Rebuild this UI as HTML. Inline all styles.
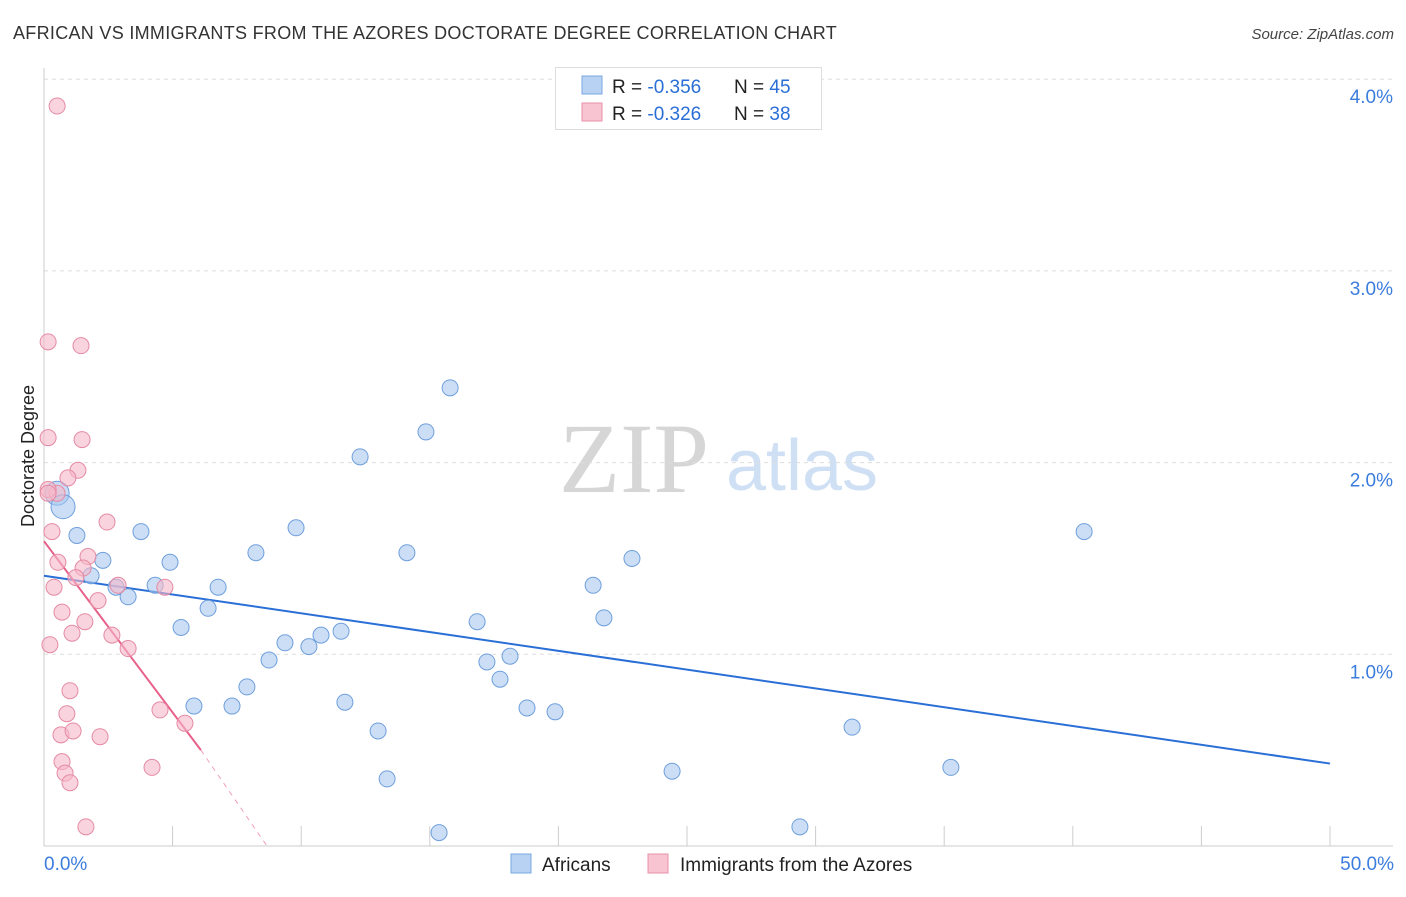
<!DOCTYPE html>
<html><head><meta charset="utf-8">
<style>
body{margin:0;background:#fff;font-family:"Liberation Sans",sans-serif;}
</style></head>
<body>
<svg id="chart" width="1406" height="892" viewBox="0 0 1406 892" xmlns="http://www.w3.org/2000/svg" font-family="Liberation Sans, sans-serif">
<text x="13" y="39" font-size="18" fill="#333" letter-spacing="0.3">AFRICAN VS IMMIGRANTS FROM THE AZORES DOCTORATE DEGREE CORRELATION CHART</text>
<text x="1394" y="39" font-size="15" fill="#444" font-style="italic" text-anchor="end">Source: ZipAtlas.com</text>
<g>
<text x="634" y="492" font-size="100" fill="#d6d6d6" style="font-family:'Liberation Serif',serif" text-anchor="middle">ZIP</text>
<text x="802" y="490" font-size="72" fill="#cfe0f5" text-anchor="middle">atlas</text>
</g>
<g id="grid"></g>
<g id="axes"></g>
<g id="lines"></g>
<g id="points"></g>
<text transform="translate(34,456) rotate(-90)" font-size="18" fill="#222" text-anchor="middle">Doctorate Degree</text>
<g>
<rect x="555.5" y="67.5" width="266" height="62" fill="#fff" stroke="#ddd"/>
<rect x="582" y="76" width="20" height="18" fill="#b8d2f4" stroke="#7aa8e0"/>
<text x="612" y="93" font-size="19" fill="#222">R = <tspan fill="#2a6fd6">-0.356</tspan></text>
<text x="734" y="93" font-size="19" fill="#222">N = <tspan fill="#2a6fd6">45</tspan></text>
<rect x="582" y="103" width="20" height="18" fill="#f8c4d2" stroke="#e890a8"/>
<text x="612" y="120" font-size="19" fill="#222">R = <tspan fill="#2a6fd6">-0.326</tspan></text>
<text x="734" y="120" font-size="19" fill="#222">N = <tspan fill="#2a6fd6">38</tspan></text>
</g>
<g>
<rect x="511" y="854" width="20" height="19" fill="#b8d2f4" stroke="#7aa8e0"/>
<text x="542" y="871" font-size="19" fill="#222">Africans</text>
<rect x="648" y="854" width="20" height="19" fill="#f8c4d2" stroke="#e890a8"/>
<text x="680" y="871" font-size="19" fill="#222">Immigrants from the Azores</text>
</g>
</svg>
<script>
const yTicks=[1,2,3,4];
const yTickLabels=["1.0%","2.0%","3.0%","4.0%"];
const xTickLabels=["0.0%","50.0%"];
const blueX=[0.51,0.74,1.28,1.83,2.29,2.80,3.27,3.77,4.32,4.90,5.33,5.83,6.38,6.77,7.31,7.89,8.24,8.75,9.37,9.80,10.30,10.77,11.55,11.70,12.29,12.99,13.34,14.11,14.85,15.36,15.79,16.84,17.22,17.73,18.12,18.78,19.87,21.35,21.77,22.86,24.42,29.39,31.42,35.26,40.44];
const blueY=[1.84,1.77,1.62,1.41,1.49,1.35,1.30,1.64,1.36,1.48,1.14,0.73,1.24,1.35,0.73,0.83,1.53,0.97,1.06,1.66,1.04,1.10,1.12,0.75,2.03,0.60,0.35,1.53,2.16,0.07,2.39,1.17,0.96,0.87,0.99,0.72,0.70,1.36,1.19,1.50,0.39,0.10,0.62,0.41,1.64];
const pinkX=[0.51,0.16,1.44,0.16,1.48,1.32,0.93,0.51,0.16,0.31,2.45,1.71,0.54,1.52,1.24,0.39,2.88,4.70,2.10,0.70,1.59,1.09,2.64,3.27,0.23,1.01,0.89,4.51,5.48,0.66,1.13,2.18,0.70,0.82,1.01,4.20,1.63,0.16];
const pinkY=[3.86,2.63,2.61,2.13,2.12,1.96,1.92,1.84,1.86,1.64,1.69,1.51,1.48,1.45,1.40,1.35,1.36,1.35,1.28,1.22,1.17,1.11,1.10,1.03,1.05,0.81,0.69,0.71,0.64,0.58,0.60,0.57,0.44,0.38,0.33,0.41,0.10,1.84];
const blueTrend=[[0,1.41],[50,0.43]];
const pinkTrend=[[0,1.59],[6.1,0.50]];
const pinkDash=[[6.1,0.50],[8.67,0]];
const X=v=>44+v*25.72, Y=v=>846-v*191.7;
const NS="http://www.w3.org/2000/svg";
function mk(p,t,a){const e=document.createElementNS(NS,t);for(const k in a)e.setAttribute(k,a[k]);document.getElementById(p).appendChild(e);return e;}
yTicks.forEach((t,i)=>{
 const l=mk('grid','line',{x1:44,x2:1393,y1:Y(t),y2:Y(t),stroke:'#ddd','stroke-dasharray':'4,4'});
 
 
 const tx=mk('grid','text',{x:1393,y:Y(t)+24,'font-size':19,fill:'#3b7ddd','text-anchor':'end'});
 tx.textContent=yTickLabels[i];
 
 
});
const ax=mk('axes','line',{x1:44,x2:1393,y1:846,y2:846,stroke:'#ccc'});


const ay=mk('axes','line',{x1:44,x2:44,y1:68,y2:846,stroke:'#ccc'});


for(let i=0;i<=10;i++){const t=mk('axes','line',{x1:X(i*5),x2:X(i*5),y1:826,y2:846,stroke:'#ccc'});
 
 }
[[0,'start',44],[50,'end',1394]].forEach((d,i)=>{const t=mk('axes','text',{x:d[2],y:870,'font-size':19,fill:'#3b7ddd','text-anchor':d[1]});t.textContent=xTickLabels[i];
 
 });
function pts(xs,ys,fill,stroke,name){xs.forEach((x,i)=>{const r=(name==='africans-point'&&i<2)?12:8;
 const c=mk('points','circle',{cx:X(x),cy:Y(ys[i]),r:r,fill:fill,'fill-opacity':0.6,stroke:stroke,'stroke-width':1});
 
 });}
pts(blueX,blueY,'#a9c8f0','#6f9fdc','africans-point');
pts(pinkX,pinkY,'#f5b8c8','#e58aa4','azores-point');
const bl=mk('lines','line',{x1:X(blueTrend[0][0]),y1:Y(blueTrend[0][1]),x2:X(blueTrend[1][0]),y2:Y(blueTrend[1][1]),stroke:'#2a6fd6','stroke-width':2});


const pl=mk('lines','line',{x1:X(pinkTrend[0][0]),y1:Y(pinkTrend[0][1]),x2:X(pinkTrend[1][0]),y2:Y(pinkTrend[1][1]),stroke:'#e8608a','stroke-width':2});


const pd=mk('lines','line',{x1:X(pinkDash[0][0]),y1:Y(pinkDash[0][1]),x2:X(pinkDash[1][0]),y2:Y(pinkDash[1][1]),stroke:'#f0a0b8','stroke-width':1,'stroke-dasharray':'5,5'});


</script>
</body></html>
